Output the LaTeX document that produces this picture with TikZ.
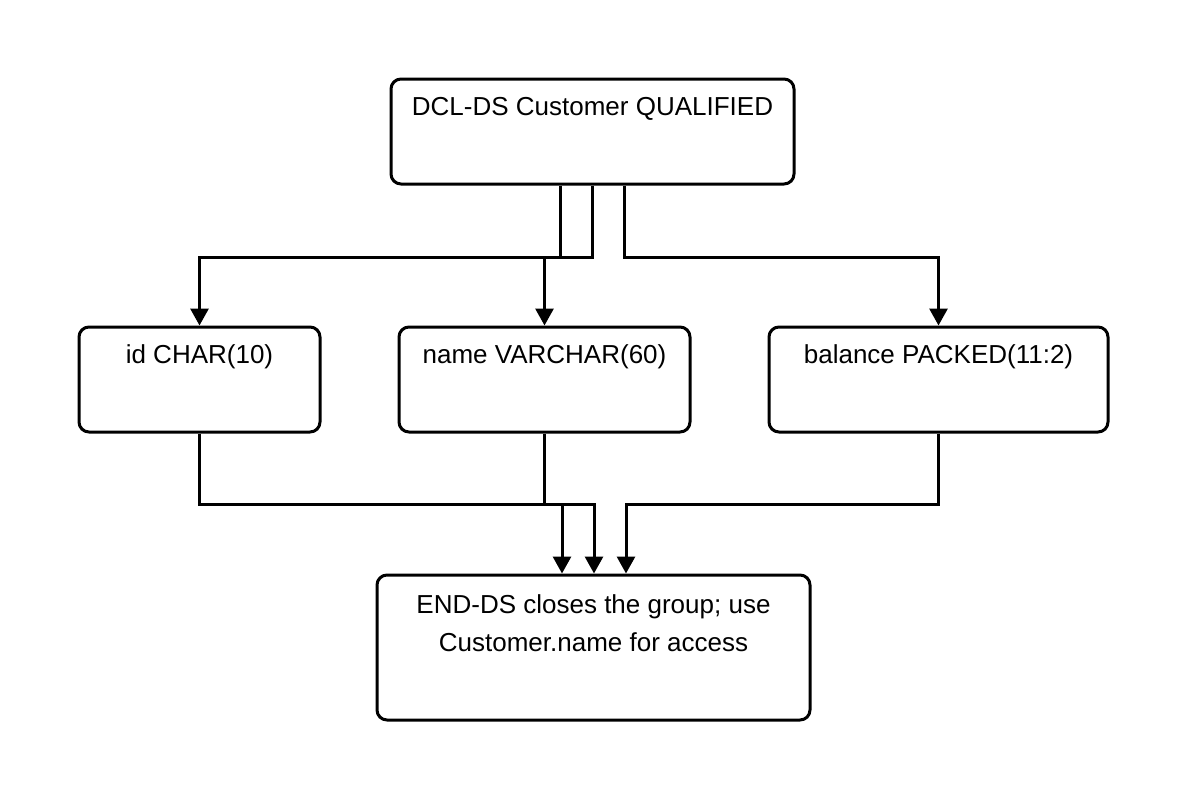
\documentclass[tikz,border=0pt]{standalone}
\usepackage{fontspec}
\setmainfont{Liberation Sans}
\usetikzlibrary{positioning,arrows.meta}
\tikzset{box/.style={draw,line width=3pt,rounded corners=10pt,align=center,
    font=\fontsize{26}{38}\selectfont},
  conn/.style={line width=3pt,-{Triangle[width=18pt,length=17pt]}}}
\begin{document}
\begin{tikzpicture}[x=1pt,y=-1pt]
  \useasboundingbox (0,0) rectangle (1188,800);
  \node[box,minimum width=403pt,minimum height=105pt] (top) at (592.5,131.5) {DCL-DS Customer QUALIFIED\\[12pt]};
  \node[box,minimum width=241pt,minimum height=105pt] (id) at (199.5,379.5) {id CHAR(10)\\[12pt]};
  \node[box,minimum width=291pt,minimum height=105pt] (name) at (544.5,379.5) {name VARCHAR(60)\\[12pt]};
  \node[box,minimum width=339pt,minimum height=105pt] (bal) at (938.5,379.5) {balance PACKED(11:2)\\[12pt]};
  \node[box,minimum width=433pt,minimum height=145pt] (end) at (593.5,647.5) {END-DS closes the group; use\\Customer.name for access\\[10pt]};
  % fields from the group
  \draw[conn] ([xshift=-32pt]top.south) -- ++(0,72) -| (id.north);
  \draw[conn] ([xshift=0pt]top.south) -- ++(0,72) -| (name.north);
  \draw[conn] ([xshift=32pt]top.south) -- ++(0,72) -| (bal.north);
  % fields to the end
  \draw[conn] (id.south) -- ++(0,71) -| ([xshift=-31.5pt]end.north);
  \draw[conn] (name.south) -- ++(0,71) -| ([xshift=0.5pt]end.north);
  \draw[conn] (bal.south) -- ++(0,71) -| ([xshift=32.5pt]end.north);
\end{tikzpicture}
\end{document}
